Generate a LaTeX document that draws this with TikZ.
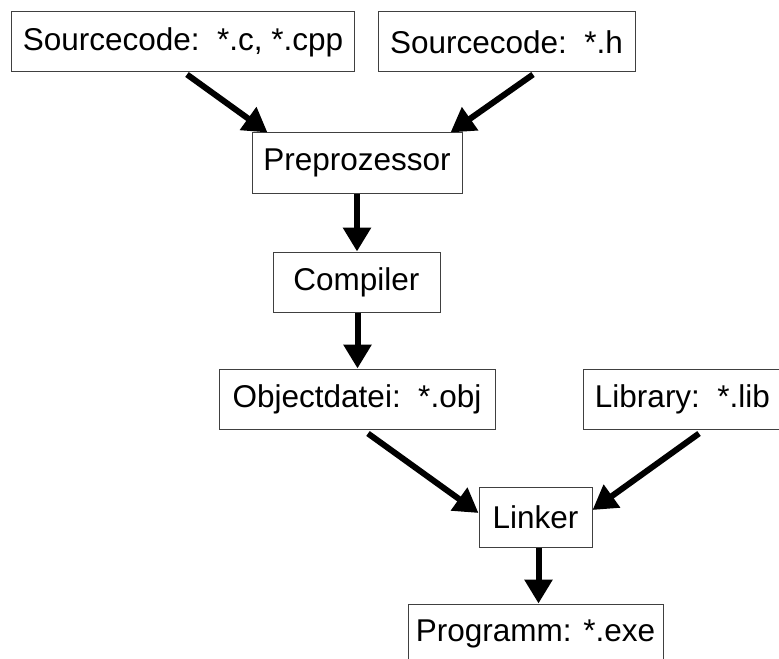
\documentclass[tikz,border=0pt]{standalone}
\usepackage{fontspec}
\setmainfont{Liberation Sans}
\usetikzlibrary{arrows.meta,calc}

\tikzset{
  stage/.style={draw=black!75, line width=1bp, fill=white, rectangle,
    minimum height=60bp, inner sep=0pt,
    font=\fontsize{31.5bp}{36bp}\selectfont},
  flow/.style={line width=6bp, draw=black,
    -{Triangle[width=27bp, length=24bp]}},
}

\begin{document}
\begin{tikzpicture}[x=1bp, y=-1bp]
  \useasboundingbox (0,0) rectangle (779,659);

  % processing stages
  \node[stage, minimum width=342bp] (src)  at (183,42)     {Sourcecode:\ \ *.c, *.cpp};
  \node[stage, minimum width=257bp] (hdr)  at (506.5,42)   {Sourcecode:\ \ *.h};
  \node[stage, minimum width=210bp] (pre)  at (357,163)    {Preprozessor};
  \node[stage, minimum width=167bp] (comp) at (356.5,282)  {Compiler};
  \node[stage, minimum width=276bp] (obj)  at (357,399)    {Objectdatei:\ \ *.obj};
  \node[stage, minimum width=199bp] (lib)  at (682.5,399)  {Library:\ \ *.lib};
  \node[stage, minimum width=113bp] (link) at (535.5,517)  {Linker};
  \node[stage, minimum width=255bp] (prog) at (535.5,634)  {Programm: *.exe};

  % data flow
  \draw[flow] ([xshift=4bp, yshift=-2bp]src.south) -- ([xshift=16bp]pre.north west);
  \draw[flow] ([xshift=26.5bp, yshift=-2bp]hdr.south) -- ([xshift=-12bp]pre.north east);
  \draw[flow] (pre.south) -- (pre.south |- comp.north);
  \draw[flow] ([xshift=1bp]comp.south) -- ([xshift=1bp]comp.south |- obj.north);
  \draw[flow] ([xshift=11bp, yshift=-4bp]obj.south) -- ([yshift=4bp]link.west);
  \draw[flow] ([xshift=16.5bp, yshift=-4bp]lib.south) -- ([yshift=7bp]link.east);
  \draw[flow] ([xshift=3bp]link.south) -- ([xshift=3bp]link.south |- prog.north);
\end{tikzpicture}
\end{document}
